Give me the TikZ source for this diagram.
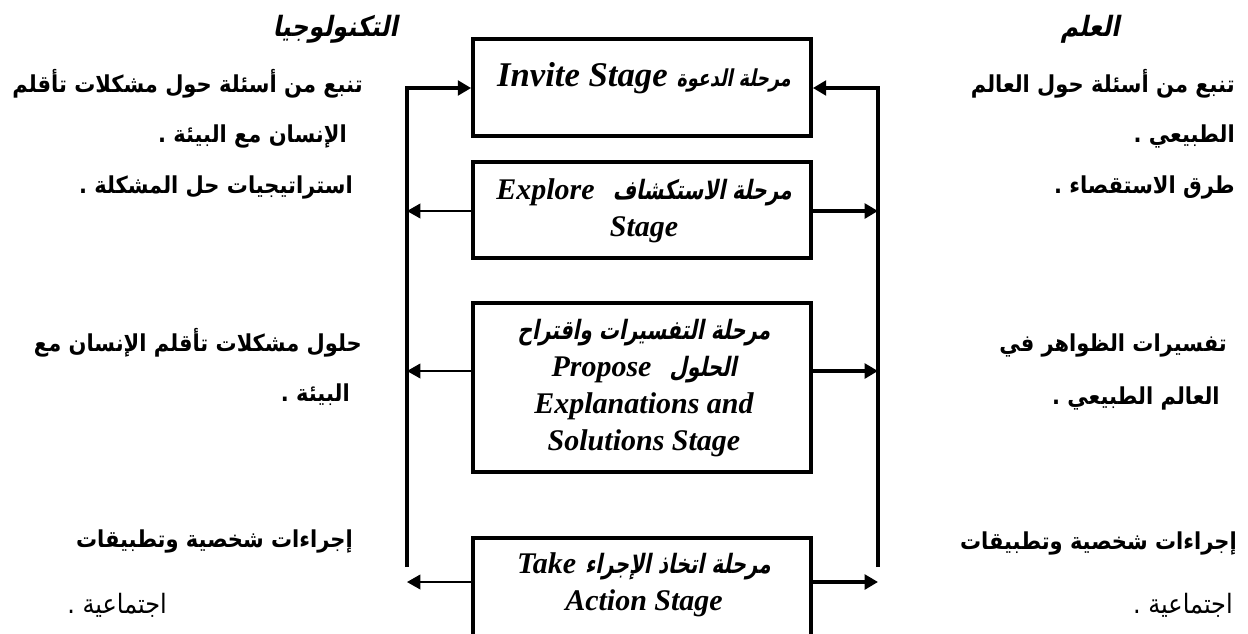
\documentclass[tikz,border=0pt]{standalone}
\usepackage{fontspec}
\usetikzlibrary{arrows.meta}
\TeXXeTstate=1
\newfontfamily\arfont[Script=Arabic,FakeStretch=0.9]{DejaVu Sans}
\newfontfamily\arslant[Script=Arabic,FakeSlant=0.2,FakeStretch=0.75]{DejaVu Sans}
\newfontfamily\arhead[Script=Arabic,FakeSlant=0.2,FakeStretch=0.85]{DejaVu Sans}
\newfontfamily\enfont{Liberation Serif}
\newcommand{\AR}[1]{{\arfont\bfseries\beginR #1\endR}}
\newcommand{\ARr}[1]{{\arfont\fontsize{20}{24}\selectfont\beginR #1\endR}}
\newcommand{\AS}[1]{{\arslant\bfseries\fontsize{20}{27.75}\selectfont #1}}
\newcommand{\ASs}[1]{{\arslant\bfseries\fontsize{17.5}{27.75}\selectfont #1}}
\newcommand{\AH}[1]{{\arhead\bfseries\fontsize{21}{24}\selectfont\beginR #1\endR}}
\newcommand{\EN}[1]{\beginL{\enfont\bfseries\itshape #1}\endL}
\newcommand{\ENb}[1]{\beginL{\enfont\bfseries\itshape\fontsize{26}{30}\selectfont #1}\endL}
\begin{document}
\begin{tikzpicture}[x=0.75pt,y=-0.75pt,
  stagebox/.style={draw,line width=2.8pt,inner sep=0pt},
  stagetext/.style={align=center,inner sep=0pt,font=\fontsize{22.5}{27.75}\selectfont},
  sidetext/.style={inner sep=0pt,font=\fontsize{17.5}{21}\selectfont},
  heavy/.style={line width=2.8pt,-{Triangle[length=10pt,width=11pt]}},
  light/.style={line width=1.3pt,-{Triangle[length=10pt,width=11pt]}}]
\useasboundingbox (0,0) rectangle (1248,633);
% boxes
\node[stagebox,minimum width=253.5pt,minimum height=72.75pt] (b1) at (642,87.5) {};
\node[stagebox,minimum width=253.5pt,minimum height=72pt] (b2) at (642,210) {};
\node[stagebox,minimum width=253.5pt,minimum height=126.75pt] (b3) at (642,387.5) {};
\node[stagebox,minimum width=253.5pt,minimum height=84pt] (b4) at (642,594) {};
% box texts
\node[stagetext] (t1) at (644,78) {\beginR\ASs{مرحلة الدعوة} \ENb{Invite Stage}\endR};
\node[stagetext] (t2) at (644,211) {\beginR\AS{مرحلة الاستكشاف}\ \ \EN{Explore}\endR\\ \EN{Stage}};
\node[stagetext] (t3) at (644,388) {\beginR\AS{مرحلة التفسيرات واقتراح}\endR\\ \beginR\AS{الحلول}\ \ \EN{Propose}\endR\\ \EN{Explanations and}\\ \EN{Solutions Stage}};
\node[stagetext] (t4) at (644,585) {\beginR\AS{مرحلة اتخاذ الإجراء} \EN{Take}\endR\\ \EN{Action Stage}};
% rails
\coordinate (lt) at (407,88);
\coordinate (lb) at (407,567);
\coordinate (rt) at (878,88);
\coordinate (rb) at (878,567);
\coordinate (y2) at (642,211);
\coordinate (y3) at (642,371);
\coordinate (y4) at (642,582);
\draw[heavy] (lb) -- (lt) -- (b1.west |- lt);
\draw[heavy] (rb) -- (rt) -- (b1.east |- rt);
\draw[light] (b2.west |- y2) -- (lt |- y2);
\draw[heavy] (b2.east |- y2) -- (rt |- y2);
\draw[light] (b3.west |- y3) -- (lt |- y3);
\draw[heavy] (b3.east |- y3) -- (rt |- y3);
\draw[light] (b4.west |- y4) -- (lt |- y4);
\draw[heavy] (b4.east |- y4) -- (rt |- y4);
% headers
\node[sidetext,anchor=east] (hl) at (398,29) {\AH{التكنولوجيا}};
\node[sidetext] (hr) at (1090,29) {\AH{العلم}};
% left texts
\node[sidetext,anchor=east] (l1) at (363,84) {\AR{تنبع من أسئلة حول مشكلات تأقلم}};
\node[sidetext,anchor=east] (l2) at (347,136) {\AR{الإنسان مع البيئة .}};
\node[sidetext,anchor=east] (l3) at (353,187) {\AR{استراتيجيات حل المشكلة .}};
\node[sidetext,anchor=east] (l4) at (362,343) {\AR{حلول مشكلات تأقلم الإنسان مع}};
\node[sidetext,anchor=east] (l5) at (350,395) {\AR{البيئة .}};
\node[sidetext,anchor=east] (l6) at (353,541) {\AR{إجراءات شخصية وتطبيقات}};
\node[sidetext,anchor=west] (l7) at (67,605) {\ARr{اجتماعية .}};
% right texts
\node[sidetext,anchor=east] (r1) at (1235,84) {\AR{تنبع من أسئلة حول العالم}};
\node[sidetext,anchor=east] (r2) at (1235,136) {\AR{الطبيعي .}};
\node[sidetext,anchor=east] (r3) at (1235,187) {\AR{طرق الاستقصاء .}};
\node[sidetext,anchor=east] (r4) at (1227,345) {\AR{تفسيرات الظواهر في}};
\node[sidetext,anchor=east] (r5) at (1220,398) {\AR{العالم الطبيعي .}};
\node[sidetext,anchor=east] (r6) at (1237,543) {\AR{إجراءات شخصية وتطبيقات}};
\node[sidetext,anchor=east] (r7) at (1233,605) {\ARr{اجتماعية .}};
\end{tikzpicture}
\end{document}
